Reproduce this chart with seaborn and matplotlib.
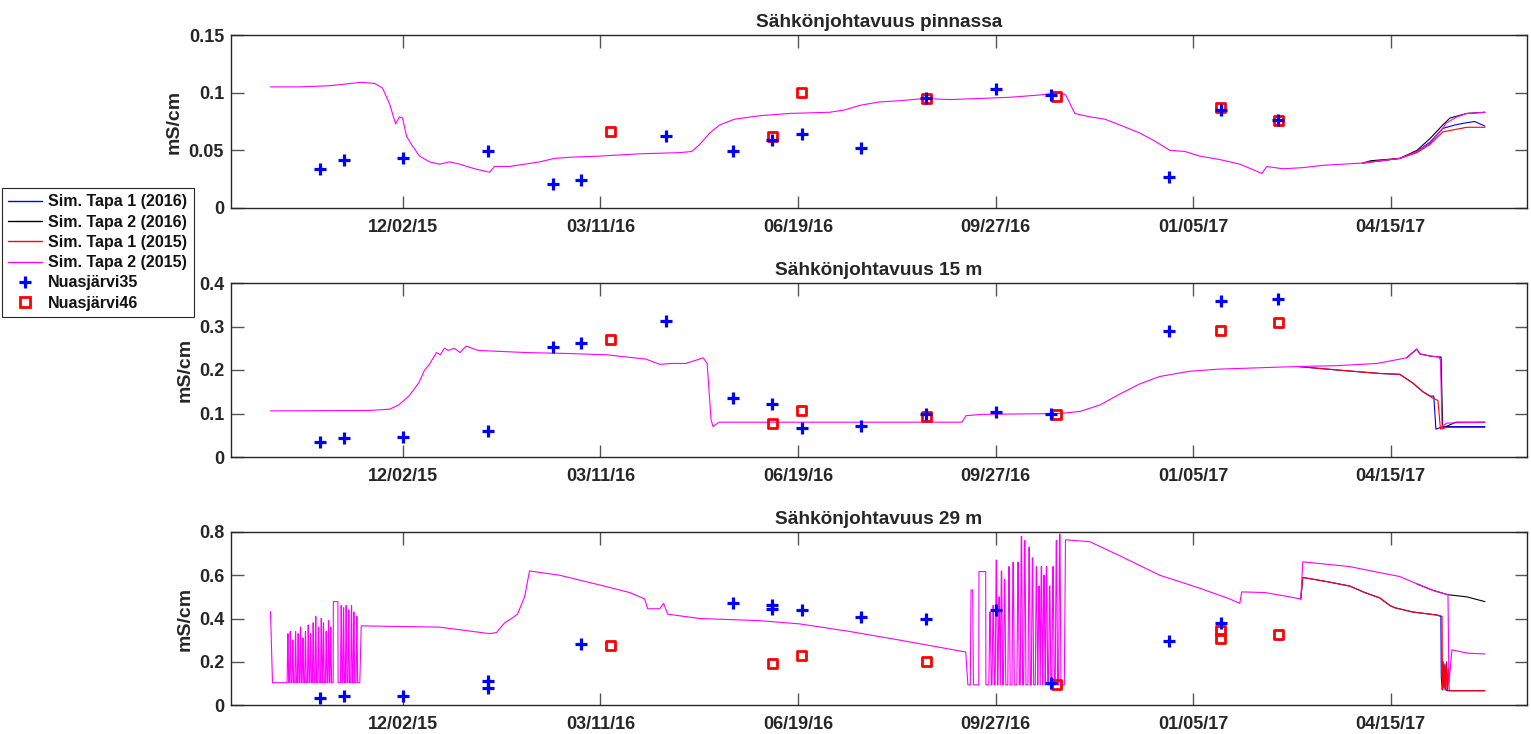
import numpy as np
import pandas as pd
import matplotlib
matplotlib.use("Agg")
import matplotlib.pyplot as plt
import matplotlib.dates as mdates
from matplotlib.lines import Line2D
import seaborn as sns

# ---------------------------------------------------------------------------
# Simulation time axis: days counted from the model start date
# ---------------------------------------------------------------------------
SIM_START = pd.Timestamp("2015-09-26")

SERIES = ["Sim. Tapa 1 (2016)", "Sim. Tapa 2 (2016)",
          "Sim. Tapa 1 (2015)", "Sim. Tapa 2 (2015)"]
SERIES_COLORS = ["#0000FF", "#000000", "#FF0000", "#FF00FF"]
TITLES = ["Sähkönjohtavuus pinnassa", "Sähkönjohtavuus 15 m", "Sähkönjohtavuus 29 m"]
YLIMS = [(0, 0.15), (0, 0.4), (0, 0.8)]
YTICKS = [[0, 0.05, 0.1, 0.15], [0, 0.1, 0.2, 0.3, 0.4], [0, 0.2, 0.4, 0.6, 0.8]]
XTICK_DATES = ["2015-12-02", "2016-03-11", "2016-06-19",
               "2016-09-27", "2017-01-05", "2017-04-15"]
XLIM = ("2015-09-06", "2017-06-23")

# ---------------------------------------------------------------------------
# Surface (pinnassa)
# ---------------------------------------------------------------------------
surf_t2_2015_day = [0, 14.7, 29.9, 46, 52.7, 56.7, 60.3, 63.3, 65.3, 66.8, 68.9, 71.4,
                    75.4, 80.5, 85.6, 90.6, 95.7, 103.3, 110.9, 113.4, 121, 128.6,
                    136.2, 143.8, 151.4, 166.6, 186.8, 207.1, 213.2, 217.2, 222.3,
                    227.3, 234.9, 247.6, 262.8, 283, 290.6, 298.2, 308.4, 318.5,
                    331.1, 343.8, 359, 374.2, 389.4, 399.5, 402.5, 407.1, 414.7,
                    422.3, 429.9, 440, 447.6, 455.2, 462.8, 470.4, 480.5, 490.6,
                    501.8, 504.3, 512.4, 522.5, 532.7, 552.9, 561.5, 571.6, 580.3,
                    586.8, 591.9, 595.4, 600.5, 605.6, 614.7]
surf_t2_2015_val = [0.105, 0.105, 0.106, 0.109, 0.108, 0.104, 0.090, 0.073, 0.079, 0.078,
                    0.062, 0.055, 0.045, 0.040, 0.038, 0.040, 0.038, 0.034, 0.031, 0.036,
                    0.036, 0.038, 0.040, 0.043, 0.044, 0.045, 0.047, 0.048, 0.049, 0.055,
                    0.065, 0.072, 0.077, 0.080, 0.082, 0.083, 0.085, 0.089, 0.092, 0.093,
                    0.095, 0.094, 0.095, 0.096, 0.098, 0.100, 0.098, 0.082, 0.079, 0.077,
                    0.072, 0.065, 0.058, 0.050, 0.049, 0.045, 0.042, 0.038, 0.030, 0.036,
                    0.034, 0.035, 0.037, 0.039, 0.041, 0.043, 0.049, 0.056, 0.066, 0.074,
                    0.079, 0.082, 0.083]
surf_t1_2015_day = [552.9, 571.6, 580.3, 586.8, 593.4, 605.6, 614.7]
surf_t1_2015_val = [0.039, 0.043, 0.048, 0.055, 0.066, 0.070, 0.070]
surf_t1_2016_day = [552.9, 571.6, 580.3, 586.8, 593.4, 599.5, 605.6, 609.5, 614.7]
surf_t1_2016_val = [0.039, 0.043, 0.049, 0.057, 0.069, 0.072, 0.074, 0.075, 0.071]
surf_t2_2016_day = [552.9, 557.0, 571.6, 580.3, 586.8, 593.4, 597.0, 605.6, 614.7]
surf_t2_2016_val = [0.039, 0.041, 0.043, 0.050, 0.060, 0.072, 0.078, 0.082, 0.083]

# ---------------------------------------------------------------------------
# 15 m
# ---------------------------------------------------------------------------
mid_t2_2015_day = [0, 50, 60.3, 65, 70, 75, 78, 80, 82, 84, 86, 88, 90, 93, 96, 99,
                   105, 115, 130, 150, 170, 190, 197, 203, 210, 215, 219, 221, 223,
                   224, 227, 300, 350, 352, 360, 400, 410, 420, 430, 440, 450, 465,
                   480, 500, 520, 540, 560, 575, 580.2, 581.8, 587, 591.3, 592.2,
                   593.0, 595.4, 614.7]
mid_t2_2015_val = [0.106, 0.107, 0.110, 0.120, 0.140, 0.170, 0.200, 0.210, 0.225, 0.240,
                   0.235, 0.250, 0.245, 0.250, 0.240, 0.255, 0.245, 0.243, 0.240, 0.238,
                   0.235, 0.225, 0.213, 0.215, 0.215, 0.222, 0.228, 0.215, 0.085, 0.070,
                   0.080, 0.080, 0.080, 0.095, 0.098, 0.100, 0.105, 0.120, 0.145, 0.168,
                   0.185, 0.197, 0.202, 0.205, 0.208, 0.210, 0.215, 0.228, 0.248, 0.237,
                   0.232, 0.230, 0.223, 0.070, 0.078, 0.080]
mid_t1_2015_day = [520, 540, 561.5, 571.6, 578.2, 583.3, 588.4, 590.9, 592.2, 595.4, 614.7]
mid_t1_2015_val = [0.208, 0.200, 0.192, 0.190, 0.170, 0.150, 0.135, 0.130, 0.064, 0.068, 0.068]
mid_t1_2016_day = [520, 540, 561.5, 571.6, 578.2, 583.3, 587.0, 588.8, 589.9, 593.4, 614.7]
mid_t1_2016_val = [0.208, 0.200, 0.192, 0.190, 0.170, 0.150, 0.140, 0.140, 0.064, 0.070, 0.070]
mid_t2_2016_day = [575, 580.2, 581.8, 587, 591.3, 592.5, 593.3, 595.0, 600.0, 614.7]
mid_t2_2016_val = [0.228, 0.248, 0.237, 0.232, 0.230, 0.230, 0.068, 0.070, 0.080, 0.080]

# ---------------------------------------------------------------------------
# 29 m : smooth parts plus mixing spikes (peak day, peak value)
# ---------------------------------------------------------------------------
deep_low = 0.103
deep_spike1_day = [8.8, 10.0, 11.3, 12.7, 14.0, 15.2, 16.4, 17.7, 19.1, 20.3, 21.6,
                   22.9, 24.3, 25.7, 26.8, 28.2, 29.4, 30.5]
deep_spike1_val = [0.33, 0.34, 0.30, 0.34, 0.33, 0.36, 0.31, 0.34, 0.37, 0.33, 0.38,
                   0.41, 0.36, 0.40, 0.38, 0.34, 0.39, 0.36]
deep_plateau1 = (31.7, 34.2, 0.478)
deep_spike2_day = [35.8, 37.0, 38.3, 39.6, 41.0, 42.2, 43.7]
deep_spike2_val = [0.46, 0.45, 0.46, 0.44, 0.46, 0.43, 0.41]

deep_mid_day = [45.2, 45.9, 85.6, 110.9, 114.4, 118.5, 122, 125, 128.6, 131.1, 146.3,
                166.6, 181.8, 189.4, 190.9, 197, 199, 201, 217.2, 247.6, 267.8,
                293.2, 318.5, 351.9]
deep_mid_val = [0.103, 0.366, 0.360, 0.330, 0.335, 0.380, 0.400, 0.420, 0.500, 0.620,
                0.600, 0.555, 0.520, 0.490, 0.445, 0.445, 0.470, 0.420, 0.400, 0.390,
                0.375, 0.340, 0.300, 0.245]
deep_low2 = 0.093
deep_spike3_day = [355.0]
deep_spike3_val = [0.532]
deep_plateau2 = (358.5, 362.1, 0.617)
deep_spike4_day = [364.2, 365.8, 367.4, 368.8, 370.0, 371.6, 373.8, 375.9, 378.4, 380.1,
                   381.8, 384.0, 385.7, 387.7, 389.0, 390.2, 391.5, 392.8, 394.4, 396.1,
                   397.8, 399.5]
deep_spike4_val = [0.43, 0.46, 0.67, 0.50, 0.62, 0.58, 0.64, 0.66, 0.66, 0.78, 0.76,
                   0.73, 0.68, 0.64, 0.55, 0.64, 0.60, 0.64, 0.55, 0.64, 0.76, 0.79]
deep_tail_day = [401.8, 402.4, 414.7, 429.9, 450.1, 470.4, 485.6, 490.6, 491.6, 503.3,
                 515.9, 521.5, 522.5, 546.3, 561.5, 571.6, 580.3, 588.4, 596.0, 596.5,
                 598.0, 605.6, 614.7]
deep_tail_val = [0.093, 0.764, 0.755, 0.690, 0.600, 0.540, 0.490, 0.470, 0.523, 0.520,
                 0.500, 0.490, 0.662, 0.640, 0.612, 0.594, 0.560, 0.530, 0.510, 0.100,
                 0.255, 0.240, 0.236]

deep_t1_2015_day = [521.5, 522.5, 535, 546.3, 553.9, 561.5, 566.6, 569, 578.2, 590.4,
                    593.0, 593.2, 593.6, 594.0, 594.4, 594.8, 595.3, 595.7, 596.2,
                    596.6, 614.7]
deep_t1_2015_val = [0.490, 0.590, 0.570, 0.550, 0.520, 0.495, 0.460, 0.450, 0.430, 0.416,
                    0.410, 0.070, 0.200, 0.070, 0.180, 0.070, 0.200, 0.070, 0.170,
                    0.066, 0.066]
deep_t1_2016_day = [521.5, 522.5, 535, 546.3, 553.9, 561.5, 566.6, 569, 578.2, 590.4,
                    592.4, 592.6, 593.1, 593.5, 594.0, 594.5, 595.0, 595.8, 614.7]
deep_t1_2016_val = [0.490, 0.590, 0.570, 0.550, 0.520, 0.495, 0.460, 0.450, 0.430, 0.416,
                    0.410, 0.130, 0.070, 0.190, 0.080, 0.190, 0.070, 0.066, 0.066]
deep_t2_2016_day = [580.3, 588.4, 596.0, 605.6, 614.7]
deep_t2_2016_val = [0.560, 0.530, 0.510, 0.500, 0.478]

# ---------------------------------------------------------------------------
# Observations
# ---------------------------------------------------------------------------
obs35_dates = ["2015-10-21", "2015-11-02", "2015-12-02", "2016-01-14", "2016-02-16",
               "2016-03-01", "2016-04-13", "2016-05-17", "2016-06-06", "2016-06-21",
               "2016-07-21", "2016-08-23", "2016-09-27", "2016-10-25", "2016-12-24",
               "2017-01-19", "2017-02-17"]
obs35_surf = [0.034, 0.042, 0.043, 0.049, 0.021, 0.024, 0.062, 0.049, 0.059, 0.064,
              0.052, 0.095, 0.103, 0.098, 0.027, 0.085, 0.076]
obs35_mid = [0.034, 0.044, 0.046, 0.060, 0.253, 0.262, 0.313, 0.136, 0.122, 0.067,
             0.071, 0.099, 0.103, 0.099, 0.290, 0.359, 0.363]
obs35_deep = [0.032, 0.042, 0.042, 0.110, np.nan, 0.280, np.nan, 0.472, 0.463, 0.440,
              0.407, 0.400, 0.440, 0.100, 0.295, 0.380, np.nan]
obs35_deep_extra_dates = ["2016-01-14", "2016-06-06"]
obs35_deep_extra = [0.080, 0.444]

obs46_dates = ["2016-03-16", "2016-06-06", "2016-06-21", "2016-08-23", "2016-10-28",
               "2017-01-19", "2017-02-17"]
obs46_surf = [0.066, 0.062, 0.100, 0.095, 0.097, 0.087, 0.076]
obs46_mid = [0.271, 0.078, 0.106, 0.094, 0.097, 0.290, 0.310]
obs46_deep = [0.273, 0.194, 0.227, 0.199, 0.093, 0.343, 0.324]
obs46_deep_extra_dates = ["2017-01-19"]
obs46_deep_extra = [0.306]


# ---------------------------------------------------------------------------
def spikes(days, vals, base, half=0.3, top=0.12):
    """Expand (peak day, peak value) pairs into narrow pulses from a base level."""
    d, v = [], []
    for t, h in zip(days, vals):
        d += [t - half, t - top, t + top, t + half]
        v += [base, h, h, base]
    return d, v


def plateau(p, base):
    t0, t1, h = p
    return [t0, t0 + 0.1, t1 - 0.1, t1], [base, h, h, base]


def build_deep_t2_2015():
    d, v = [0, 1.0, 8.2], [0.432, deep_low, deep_low]
    for dd, vv in [spikes(deep_spike1_day, deep_spike1_val, deep_low, 0.4, 0.05),
                   plateau(deep_plateau1, deep_low),
                   spikes(deep_spike2_day, deep_spike2_val, deep_low, 0.4, 0.05),
                   (deep_mid_day, deep_mid_val),
                   ([353.0], [deep_low2]),
                   spikes(deep_spike3_day, deep_spike3_val, deep_low2, 0.8, 0.4),
                   plateau(deep_plateau2, deep_low2),
                   spikes(deep_spike4_day, deep_spike4_val, deep_low2, 0.6, 0.1),
                   (deep_tail_day, deep_tail_val)]:
        d += list(dd)
        v += list(vv)
    return d, v


deep_t2_2015_day, deep_t2_2015_val = build_deep_t2_2015()

panels = [
    {"Sim. Tapa 1 (2016)": (surf_t1_2016_day, surf_t1_2016_val),
     "Sim. Tapa 2 (2016)": (surf_t2_2016_day, surf_t2_2016_val),
     "Sim. Tapa 1 (2015)": (surf_t1_2015_day, surf_t1_2015_val),
     "Sim. Tapa 2 (2015)": (surf_t2_2015_day, surf_t2_2015_val)},
    {"Sim. Tapa 1 (2016)": (mid_t1_2016_day, mid_t1_2016_val),
     "Sim. Tapa 2 (2016)": (mid_t2_2016_day, mid_t2_2016_val),
     "Sim. Tapa 1 (2015)": (mid_t1_2015_day, mid_t1_2015_val),
     "Sim. Tapa 2 (2015)": (mid_t2_2015_day, mid_t2_2015_val)},
    {"Sim. Tapa 1 (2016)": (deep_t1_2016_day, deep_t1_2016_val),
     "Sim. Tapa 2 (2016)": (deep_t2_2016_day, deep_t2_2016_val),
     "Sim. Tapa 1 (2015)": (deep_t1_2015_day, deep_t1_2015_val),
     "Sim. Tapa 2 (2015)": (deep_t2_2015_day, deep_t2_2015_val)},
]

obs_panels = [
    (list(zip(obs35_dates, obs35_surf)), list(zip(obs46_dates, obs46_surf))),
    (list(zip(obs35_dates, obs35_mid)), list(zip(obs46_dates, obs46_mid))),
    (list(zip(obs35_dates, obs35_deep)) + list(zip(obs35_deep_extra_dates, obs35_deep_extra)),
     list(zip(obs46_dates, obs46_deep)) + list(zip(obs46_deep_extra_dates, obs46_deep_extra))),
]

# ---------------------------------------------------------------------------
sns.set_theme(style="ticks")
plt.rcParams["font.family"] = ["Liberation Sans", "DejaVu Sans"]
plt.rcParams["font.weight"] = "bold"
TXT = "#262626"

fig = plt.figure(figsize=(15.31, 7.34), dpi=100)
W, H = 1531, 734
ax_boxes = [(231, 35, 1527, 208), (231, 283, 1527, 457), (231, 532, 1527, 705)]
palette = dict(zip(SERIES, SERIES_COLORS))

for i, (x0, y0, x1, y1) in enumerate(ax_boxes):
    ax = fig.add_axes([x0 / W, 1 - y1 / H, (x1 - x0) / W, (y1 - y0) / H])
    rows = []
    for name in SERIES:
        days, vals = panels[i][name]
        for d, v in zip(days, vals):
            rows.append((name, SIM_START + pd.Timedelta(days=float(d)), v))
    df = pd.DataFrame(rows, columns=["series", "date", "value"])
    sns.lineplot(data=df, x="date", y="value", hue="series", hue_order=SERIES,
                 palette=palette, estimator=None, sort=False, linewidth=0.8,
                 legend=False, ax=ax)

    obs35, obs46 = obs_panels[i]
    d46 = pd.DataFrame(obs46, columns=["date", "value"]).dropna()
    d46["date"] = pd.to_datetime(d46["date"])
    d35 = pd.DataFrame(obs35, columns=["date", "value"]).dropna()
    d35["date"] = pd.to_datetime(d35["date"])
    sns.scatterplot(data=d46, x="date", y="value", marker="s", s=42,
                    edgecolor="#FF0000", linewidth=2.0, ax=ax, zorder=5)
    ax.collections[-1].set_facecolor("none")
    ax.collections[-1].set_edgecolor("#FF0000")
    sns.scatterplot(data=d35, x="date", y="value", marker="+", s=80,
                    color="#0000FF", linewidth=2.3, ax=ax, zorder=6)

    ax.set_xlim(pd.Timestamp(XLIM[0]), pd.Timestamp(XLIM[1]))
    ax.set_ylim(*YLIMS[i])
    ax.set_yticks(YTICKS[i])
    ax.set_yticklabels([f"{t:g}" for t in YTICKS[i]])
    ax.set_xticks(pd.to_datetime(XTICK_DATES))
    ax.xaxis.set_major_formatter(mdates.DateFormatter("%m/%d/%y"))
    ax.tick_params(direction="in", length=9, width=1.0, color="#555555",
                   top=True, right=True, labelsize=13, labelcolor=TXT)
    ax.tick_params(axis="x", pad=8)
    ax.tick_params(axis="y", pad=5)
    for lab in ax.get_xticklabels() + ax.get_yticklabels():
        lab.set_fontweight("bold")
    for sp in ax.spines.values():
        sp.set_color(TXT)
        sp.set_linewidth(1.0)
    ax.set_xlabel("")
    ax.set_ylabel("mS/cm", fontsize=14, fontweight="bold", color=TXT, labelpad=4)
    ax.set_title(TITLES[i], fontsize=13.7, fontweight="bold", color=TXT, pad=6)
    ax.grid(False)

handles = [Line2D([], [], color=c, lw=1.0) for c in SERIES_COLORS]
handles += [Line2D([], [], color="#0000FF", marker="+", ls="none", ms=8, mew=2.3),
            Line2D([], [], color="#FF0000", marker="s", ls="none", ms=6.5, mew=2.0,
                   mfc="none")]
labels = SERIES + ["Nuasjärvi35", "Nuasjärvi46"]
leg = fig.legend(handles, labels, loc="upper left", bbox_to_anchor=(0.0013, 1 - 188 / H),
                 frameon=True, fancybox=False, framealpha=1, edgecolor=TXT,
                 prop={"size": 11.5, "weight": "bold"}, handlelength=2.1,
                 handletextpad=0.4, labelspacing=0.33, borderpad=0.4,
                 borderaxespad=0)
leg.get_frame().set_linewidth(0.8)
for t in leg.get_texts():
    t.set_color("#111111")

fig.savefig("out.png", dpi=100, facecolor="white")
